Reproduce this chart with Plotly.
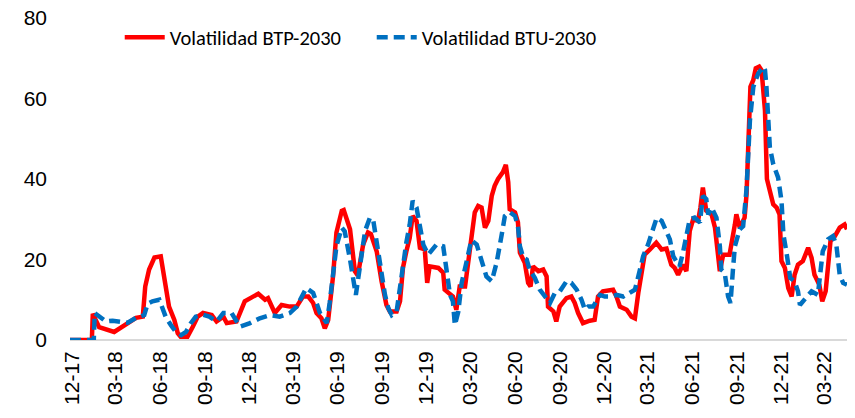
import pandas as pd
import plotly.graph_objects as go

BASE = pd.Timestamp("2017-12-01")

# Volatilidad BTP-2030: days after 2017-12-01, value
btp_days = [-4, 41, 43, 56, 87, 108, 132, 146, 151, 159, 170, 183, 190, 200, 211, 218, 224, 238, 249, 259,
            270, 276, 288, 298, 312, 319, 339, 356, 367, 384, 398, 404, 418, 432, 449, 463, 476, 487, 497, 504,
            514, 521, 528, 538, 545, 556, 560, 573, 583, 589, 600, 610, 616, 628, 638, 648, 655, 669, 676, 682,
            689, 696, 702, 710, 717, 727, 732, 737, 755, 765, 768, 785, 792, 799, 810, 820, 830, 837, 844, 851,
            858, 865, 871, 878, 888, 894, 899, 902, 913, 919, 923, 933, 940, 945, 950, 961, 971, 978, 981, 992,
            998, 1005, 1019, 1029, 1036, 1043, 1053, 1067, 1077, 1084, 1094, 1115, 1122, 1129, 1143, 1153, 1160,
            1167, 1174, 1180, 1191, 1204, 1215, 1225, 1235, 1242, 1249, 1259, 1266, 1273, 1280, 1290, 1295, 1300,
            1307, 1318, 1325, 1331, 1335, 1342, 1355, 1366, 1369, 1376, 1386, 1390, 1393, 1395, 1398, 1404, 1409,
            1416, 1421, 1428, 1432, 1438, 1445, 1452, 1458, 1462, 1469, 1476, 1483, 1489, 1496, 1506, 1517, 1524,
            1530, 1540, 1546, 1553, 1558, 1563, 1572, 1582, 1592, 1597]
btp_vals = [0, 0, 6.5, 3.2, 2.0, 3.5, 5.5, 5.8, 13.3, 17.5, 20.5, 20.8, 15.8, 8.3, 5.0, 1.7, 0.8, 0.8, 3.3, 5.8,
            6.7, 6.5, 6.2, 4.6, 5.8, 4.2, 4.6, 9.6, 10.4, 11.5, 10.0, 10.4, 6.7, 8.7, 8.3, 8.3, 10.8, 10.8, 9.2, 6.7,
            5.4, 2.9, 5.0, 15.8, 26.7, 32.1, 32.3, 27.5, 17.1, 16.0, 23.7, 26.7, 26.3, 22.0, 14.6, 8.7, 7.1, 7.1, 9.6, 17.9,
            22.0, 25.4, 30.8, 29.6, 22.9, 22.5, 14.2, 18.3, 17.9, 16.7, 12.5, 10.8, 7.5, 13.3, 13.3, 23.3, 31.7, 33.3, 32.9, 27.9,
            29.6, 35.8, 38.3, 40.0, 41.7, 43.5, 39.2, 32.5, 31.7, 29.2, 21.7, 19.2, 14.2, 13.3, 18.3, 17.1, 17.5, 15.8, 8.3, 7.1,
            4.6, 8.3, 10.4, 10.8, 9.2, 6.7, 4.2, 4.8, 5.0, 10.8, 12.1, 12.5, 10.8, 8.3, 7.5, 5.8, 5.4,
            11.7, 17.9, 21.2, 22.5, 24.2, 22.5, 22.7, 18.7, 17.9, 16.2, 18.7, 17.1, 27.1, 30.0, 29.6, 32.9, 37.9,
            32.1, 31.2, 27.9, 21.2, 17.1, 21.2, 21.2, 28.7, 31.2, 27.9, 30.4, 36.2, 46.2, 54.6, 62.9, 64.6, 67.5,
            67.9, 67.0, 57.0, 40.0, 37.1, 33.7, 32.9, 31.2, 19.6, 17.9, 12.9, 10.8, 16.2, 18.7, 19.6, 22.9, 20.4,
            16.2, 13.7, 9.6, 12.1, 17.9, 24.6, 25.8, 27.9, 28.7, 27.5]

# Volatilidad BTU-2030: days after 2017-12-01, value
btu_days = [-4, 45, 47, 70, 84, 97, 115, 132, 149, 156, 166, 180, 187, 194, 204, 214, 225, 235, 245, 255,
            269, 283, 298, 312, 329, 346, 367, 387, 408, 428, 449, 463, 483, 497, 511, 525, 531, 538, 545, 556,
            562, 573, 579, 585, 590, 597, 604, 614, 621, 631, 638, 645, 652, 659, 669, 676, 682, 689, 696, 702,
            710, 717, 724, 734, 744, 751, 765, 772, 779, 785, 789, 796, 803, 813, 823, 834, 844, 854, 865, 875,
            885, 892, 902, 913, 919, 923, 930, 937, 943, 954, 964, 974, 985, 995, 1005, 1019, 1029, 1040, 1050,
            1057, 1064, 1074, 1088, 1098, 1112, 1122, 1136, 1149, 1160, 1167, 1177, 1187, 1198, 1205, 1215, 1225,
            1232, 1239, 1246, 1252, 1259, 1266, 1273, 1283, 1294, 1300, 1307, 1311, 1318, 1328, 1335, 1338, 1345,
            1352, 1357, 1362, 1366, 1376, 1383, 1390, 1393, 1397, 1404, 1414, 1425, 1428, 1431, 1435, 1438, 1445,
            1455, 1462, 1466, 1473, 1480, 1489, 1496, 1500, 1510, 1524, 1537, 1544, 1547, 1558, 1568, 1575, 1579,
            1582, 1589, 1597]
btu_vals = [0, 0, 6.7, 4.6, 4.8, 4.6, 4.3, 5.5, 6.2, 9.0, 9.6, 10.0, 8.0, 5.5, 3.7, 2.0, 1.2, 2.0, 4.2, 5.8,
            6.3, 5.8, 4.6, 6.7, 6.7, 3.3, 4.2, 5.4, 6.2, 5.8, 6.7, 8.3, 12.9, 11.7, 6.7, 4.2, 9.2, 15.8, 23.3, 27.9,
            27.0, 20.0, 16.2, 11.2, 15.4, 22.0, 27.1, 30.4, 29.6, 22.0, 16.2, 11.2, 7.9, 6.2, 7.1, 12.9, 19.6, 24.2, 28.7, 34.6,
            32.9, 27.9, 23.7, 21.2, 22.9, 23.7, 23.3, 17.1, 11.2, 9.6, 3.7, 7.0, 14.2, 19.4, 24.8, 23.7, 20.0, 15.8, 14.6, 19.2,
            25.8, 30.8, 31.8, 30.8, 28.3, 23.3, 20.4, 20.0, 17.5, 15.4, 12.5, 10.8, 9.2, 11.7, 12.0, 14.6, 14.2, 12.5, 10.0,
            7.5, 8.3, 8.3, 11.2, 10.8, 10.8, 11.2, 10.8, 11.7, 12.5, 15.8, 20.8, 23.7, 28.3, 30.4, 29.6, 26.7,
            25.0, 20.8, 19.2, 18.3, 21.7, 25.8, 30.0, 30.4, 29.2, 35.8, 35.0, 31.2, 32.9, 30.4, 23.3, 17.5, 16.7,
            10.8, 9.2, 17.5, 23.3, 27.5, 28.3, 37.5, 47.5, 54.6, 62.9, 66.2, 67.9, 67.1, 62.9, 56.0, 47.9, 43.7,
            40.4, 34.6, 26.2, 21.2, 15.4, 14.6, 12.1, 8.7, 10.0, 12.1, 11.2, 17.9, 22.0, 25.0, 25.8, 23.7, 19.6,
            16.2, 14.2, 13.7]

tick_dates = ["2017-12-01", "2018-03-01", "2018-06-01", "2018-09-01", "2018-12-01", "2019-03-01",
              "2019-06-01", "2019-09-01", "2019-12-01", "2020-03-01", "2020-06-01", "2020-09-01",
              "2020-12-01", "2021-03-01", "2021-06-01", "2021-09-01", "2021-12-01", "2022-03-01"]
tick_labels = ["12-17", "03-18", "06-18", "09-18", "12-18", "03-19", "06-19", "09-19", "12-19",
               "03-20", "06-20", "09-20", "12-20", "03-21", "06-21", "09-21", "12-21", "03-22"]
y_ticks = [0, 20, 40, 60, 80]

btp_x = BASE + pd.to_timedelta(btp_days, unit="D")
btu_x = BASE + pd.to_timedelta(btu_days, unit="D")

fig = go.Figure()
fig.add_trace(go.Scatter(x=btp_x, y=btp_vals, mode="lines", name="Volatilidad BTP-2030",
                         line=dict(color="#FF0000", width=4.5)))
fig.add_trace(go.Scatter(x=btu_x, y=btu_vals, mode="lines", name="Volatilidad BTU-2030",
                         line=dict(color="#0070C0", width=4.5, dash="11px,6px")))

fig.update_layout(
    width=855, height=418,
    margin=dict(l=70, r=8, t=18, b=78, autoexpand=False),
    paper_bgcolor="white", plot_bgcolor="white",
    font=dict(family="Liberation Sans, Arial", color="#000000", size=21),
    showlegend=True,
    legend=dict(orientation="h", x=0.064, xanchor="left", y=0.94, yanchor="middle",
                font=dict(family="Carlito, Lato", size=20.5, color="#000000"),
                bgcolor="rgba(0,0,0,0)", itemwidth=40, entrywidth=197),
    xaxis=dict(range=["2017-11-27", "2022-04-16"], tickvals=tick_dates, ticktext=tick_labels,
               tickangle=-90, showgrid=False, zeroline=False, showline=False, automargin=False,
               ticks="", tickfont=dict(size=21), ticklabelstandoff=6, ticklabeloverflow="allow"),
    yaxis=dict(range=[0, 80], tickvals=y_ticks, showgrid=False, zeroline=True, automargin=False,
               zerolinecolor="#D9D9D9", zerolinewidth=2, showline=False, ticks="",
               tickfont=dict(size=21), ticklabelstandoff=22, ticklabeloverflow="allow"),
)

# remove the page's default body margin so the figure fills the window exactly
fig.write_html("out.html", config={"displayModeBar": False},
               post_script="document.body.style.margin='0';")
